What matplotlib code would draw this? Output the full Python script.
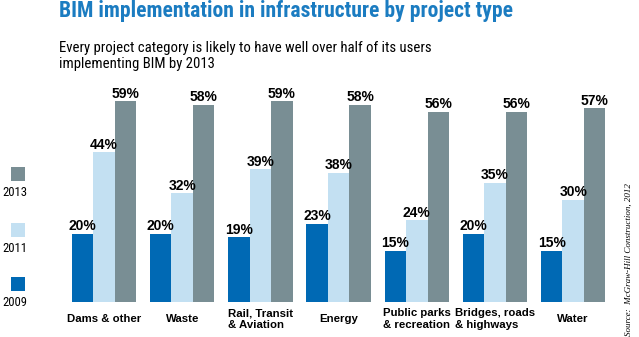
import matplotlib
matplotlib.use("Agg")
import matplotlib.pyplot as plt
from matplotlib import font_manager
from matplotlib.patches import Rectangle
import numpy as np

# data
categories = ["Dams & other", "Waste", "Rail, Transit\n& Aviation", "Energy",
              "Public parks\n& recreation", "Bridges, roads\n& highways", "Water"]
years = ["2009", "2011", "2013"]
v2009 = [20, 20, 19, 23, 15, 20, 15]
v2011 = [44, 32, 39, 38, 24, 35, 30]
v2013 = [59, 58, 59, 58, 56, 56, 57]

colors = ["#0069b4", "#c3e0f2", "#798e94"]

# pick a narrow sans if one is around, else fall back to Arial metrics
_names = {f.name for f in font_manager.fontManager.ttflist}
NARROW = "Liberation Sans"
for cand in ["Liberation Sans Narrow", "Roboto Condensed", "Open Sans Condensed"]:
    if cand in _names:
        NARROW = cand
        break

W, H = 639, 337
fig = plt.figure(figsize=(W / 100, H / 100), dpi=100)

# axes placed in pixel terms
pitch = 78.2
left_px = 104 - 0.6 * pitch
width_px = 7.2 * pitch
base_px = 302
scale = 3.4
ax = fig.add_axes([left_px / W, (H - base_px) / H, width_px / W, 70 * scale / H])
ax.set_xlim(-0.6, 6.6)
ax.set_ylim(0, 70)
ax.axis("off")

x = np.arange(len(categories))
bw = 0.275
for k, vals in enumerate([v2009, v2011, v2013]):
    bars = ax.bar(x + (k - 1) * bw, vals, bw, color=colors[k], linewidth=0)
    for b, v in zip(bars, vals):
        ax.annotate(f"{v}%", (b.get_x() + b.get_width() / 2, v),
                    xytext=(0, 0.5), textcoords="offset points",
                    ha="center", va="bottom", fontsize=10, fontweight="bold",
                    family="Liberation Sans", color="black")

for i, c in enumerate(categories):
    ax.text(i, -17 / scale, c, ha="center", va="center", multialignment="left",
            fontsize=8.2, fontweight="bold", family="Liberation Sans",
            linespacing=1.2, clip_on=False)

# title / subtitle
title = fig.text(59 / W, 1 - 11 / H, "BIM implementation in infrastructure by project type",
                 ha="left", va="center", fontsize=14, fontweight="bold",
                 color="#1b7cc1", family=NARROW)
sub = fig.text(59 / W, 1 - 56 / H,
               "Every project category is likely to have well over half of its users\nimplementing BIM by 2013",
               ha="left", va="center", fontsize=11, color="black", family=NARROW,
               linespacing=1.25)

# legend on the left
leg_txt = []
leg_sq = [(277, "2009"), (223, "2011"), (167, "2013")]
for k, (ytop, lab) in enumerate(leg_sq):
    fig.add_artist(Rectangle((11 / W, 1 - (ytop + 14) / H), 14 / W, 14 / H,
                             transform=fig.transFigure, color=colors[k], lw=0))
    leg_txt.append(fig.text(15 / W, 1 - (ytop + 25) / H, lab, ha="center",
                            va="center", fontsize=9.5, family=NARROW))

fig.text(629 / W, 1 - 260 / H, "Source:  McGraw-Hill Construction, 2012",
         rotation=90, ha="center", va="center", fontsize=6.5, style="italic",
         family=["Liberation Serif", "DejaVu Serif"])

# squeeze text sizes so widths match the original layout
fig.canvas.draw()
r = fig.canvas.get_renderer()
for t, target in [(title, 457), (sub, 371)] + [(t, 25) for t in leg_txt]:
    w = t.get_window_extent(r).width
    t.set_fontsize(t.get_fontsize() * target / w)

fig.savefig("out.png", dpi=100)
